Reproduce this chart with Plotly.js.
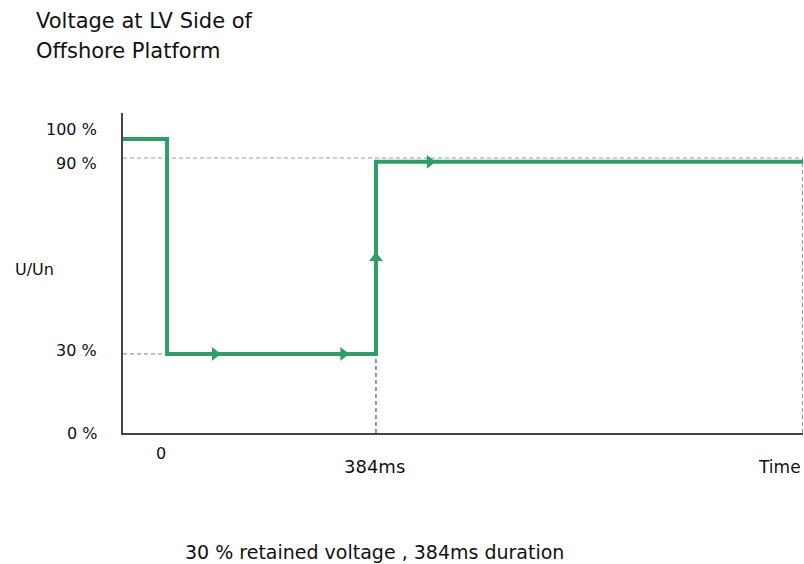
<!DOCTYPE html>
<html><head><meta charset="utf-8">
<script src="https://cdn.plot.ly/plotly-3.0.1.min.js"></script>
<style>html,body{margin:0;padding:0;background:#fff}#c{width:804px;height:564px}</style>
</head><body><div id="c"></div>
<script>
// Schematic voltage profile (levels as drawn on the schematic axis, % of Un)
var timeMs   = [-81, 0, 0, 384, 384, 1169];
var voltage  = [100, 100, 26.9, 26.9, 92.2, 92.2];
// Direction arrows along the profile
var arrowT   = [88, 324, 483];
var arrowV   = [26.9, 26.9, 92.2];
var upArrowT = [384];
var upArrowV = [59.5];
// Axis tick levels and labels
var levelVals   = [0, 26.9, 93.5, 100];
var levelLabels = ['0 %', '30 %', '90 %', '100 %'];
var eventTimes  = [0, 384];
var eventLabels = ['0', '384ms'];
var titleLines  = ['Voltage at LV Side of', 'Offshore Platform'];
var tStart = -81, tEnd = 1169, vTop = 108.8;

var green = '#2f9e66';
var traces = [];
function guide(xs, ys, col){
  traces.push({x:xs, y:ys, mode:'lines', line:{color:col, width:1.2, dash:'4px,3px'}, hoverinfo:'skip', showlegend:false});
}
guide([tStart, tEnd], [levelVals[2], levelVals[2]], '#9a9a9a');
guide([tStart, eventTimes[0]], [levelVals[1], levelVals[1]], '#9a9a9a');
guide([eventTimes[1], eventTimes[1]], [0, levelVals[1]], '#555');
guide([tEnd, tEnd], [0, levelVals[2]], '#555');
traces.push({x:timeMs, y:voltage, mode:'lines', line:{color:green, width:4}, showlegend:false});
traces.push({x:arrowT, y:arrowV, mode:'markers', marker:{symbol:'triangle-right', size:12, color:green}, showlegend:false});
traces.push({x:upArrowT, y:upArrowV, mode:'markers', marker:{symbol:'triangle-up', size:12, color:green}, showlegend:false});

var f = 'DejaVu Sans, sans-serif';
var ann = [];
// title lines
ann.push({text:titleLines[0], xref:'paper', yref:'paper', x:-0.131, y:1 + (113-21)/320, xanchor:'left', yanchor:'middle', showarrow:false, font:{size:21}});
ann.push({text:titleLines[1], xref:'paper', yref:'paper', x:-0.131, y:1 + (113-51)/320, xanchor:'left', yanchor:'middle', showarrow:false, font:{size:21}});
// y level labels
var yShifts = [0, 3, -5, 9];
levelVals.forEach(function(v, i){
  ann.push({text:levelLabels[i], xref:'paper', yref:'y', x:-0.035, y:v, xanchor:'right', yanchor:'middle', yshift:yShifts[i], showarrow:false, font:{size:16}});
});
// time labels
ann.push({text:eventLabels[0], xref:'x', yref:'paper', x:eventTimes[0], y:0, xanchor:'center', yanchor:'middle', yshift:-20, xshift:-6, showarrow:false, font:{size:16}});
ann.push({text:eventLabels[1], xref:'x', yref:'paper', x:eventTimes[1], y:0, xanchor:'center', yanchor:'middle', yshift:-33, xshift:-1, showarrow:false, font:{size:18}});
ann.push({text:'Time', xref:'paper', yref:'paper', x:1, y:0, xanchor:'right', yanchor:'middle', yshift:-34, showarrow:false, font:{size:17}});
ann.push({text:'U/Un', xref:'paper', yref:'paper', x:-0.162, y:0.51, xanchor:'left', yanchor:'middle', showarrow:false, font:{size:16}});
ann.push({text:'30 % retained voltage , 384ms duration', xref:'paper', yref:'paper', x:(183-123)/680, y:0, xanchor:'left', yanchor:'middle', yshift:-119, showarrow:false, font:{size:19}});

var layout = {
  width:804, height:564,
  margin:{l:123, r:1, t:113, b:131},
  paper_bgcolor:'#fff', plot_bgcolor:'#fff',
  font:{family:f, color:'#111', size:16},
  xaxis:{range:[tStart, tEnd], showgrid:false, zeroline:false, showticklabels:false, ticks:'', showline:true, linecolor:'#444', linewidth:2, fixedrange:true},
  yaxis:{range:[0, vTop], showgrid:false, zeroline:false, showticklabels:false, ticks:'', showline:true, linecolor:'#444', linewidth:2, fixedrange:true},
  annotations:ann
};
Plotly.newPlot('c', traces, layout, {staticPlot:true});
</script></body></html>
